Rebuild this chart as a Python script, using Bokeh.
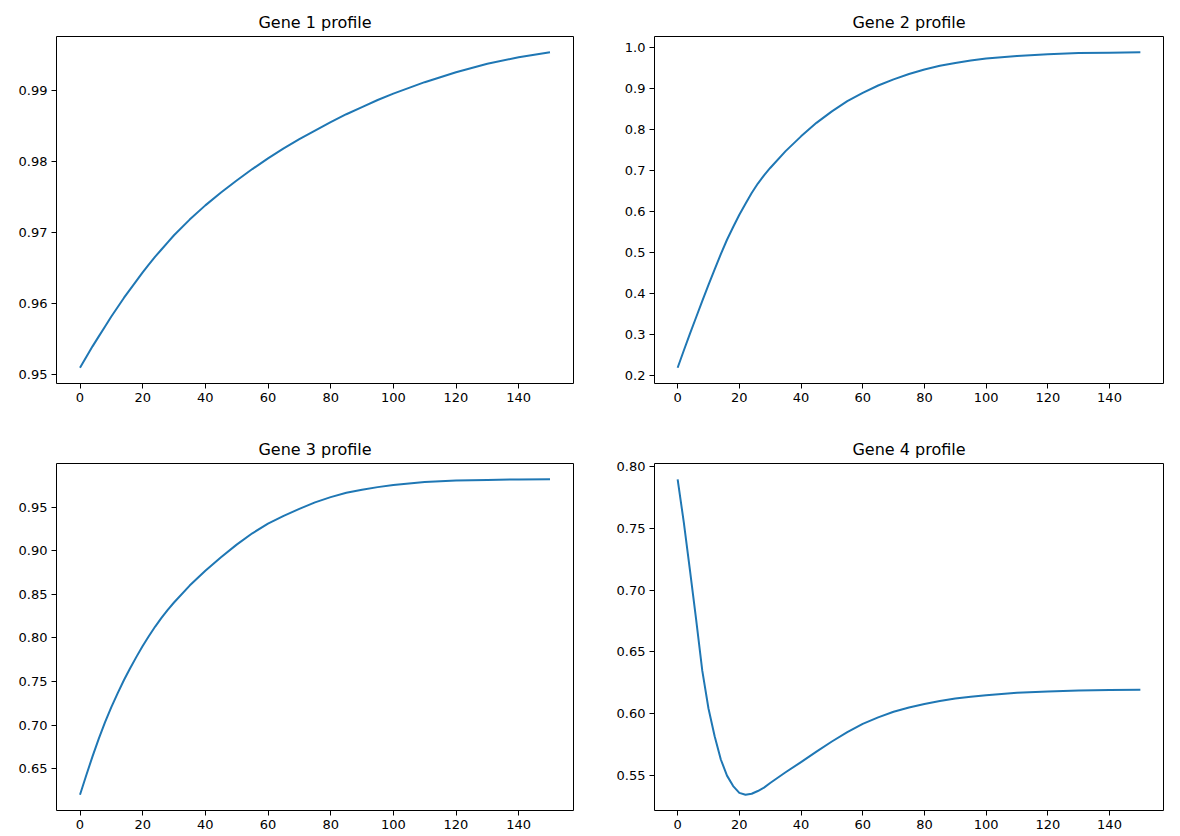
from bokeh.plotting import figure
from bokeh.layouts import gridplot
from bokeh.models import Range1d, FixedTicker, PrintfTickFormatter
from bokeh.embed import file_html
from bokeh.resources import INLINE

# ---- data ----
T = [0, 2, 4, 6, 8, 10, 12, 14, 16, 18, 20, 22, 24, 26, 28, 30, 35, 40, 45, 50,
     55, 60, 65, 70, 75, 80, 85, 90, 95, 100, 110, 120, 130, 140, 150]

GENE1 = [0.9510, 0.9525, 0.9540, 0.9554, 0.9568, 0.9582, 0.9595, 0.9608, 0.9620, 0.9632,
         0.9644, 0.9655, 0.9666, 0.9676, 0.9686, 0.9696, 0.9718, 0.9738, 0.9756, 0.9773,
         0.9789, 0.9804, 0.9818, 0.9831, 0.9843, 0.9855, 0.9866, 0.9876, 0.9886, 0.9895,
         0.9911, 0.9925, 0.9937, 0.9946, 0.9953]

GENE2 = [0.220, 0.262, 0.303, 0.343, 0.383, 0.422, 0.460, 0.497, 0.532, 0.563,
         0.593, 0.620, 0.646, 0.669, 0.689, 0.707, 0.748, 0.784, 0.817, 0.845,
         0.870, 0.890, 0.908, 0.923, 0.936, 0.947, 0.956, 0.963, 0.969, 0.974,
         0.980, 0.984, 0.987, 0.988, 0.989]

GENE3 = [0.620, 0.6424, 0.664, 0.6844, 0.7032, 0.7206, 0.7364, 0.7514, 0.7652, 0.7782,
         0.7906, 0.8022, 0.813, 0.823, 0.8322, 0.8406, 0.8600, 0.877, 0.8925, 0.907,
         0.920, 0.931, 0.940, 0.948, 0.9555, 0.9615, 0.9665, 0.970, 0.973, 0.9755,
         0.979, 0.9806, 0.9813, 0.9818, 0.982]

GENE4 = [0.790, 0.755, 0.716, 0.676, 0.6345, 0.604, 0.5815, 0.5626, 0.5495, 0.541,
         0.5355, 0.534, 0.5348, 0.5370, 0.5398, 0.5435, 0.5522, 0.5605, 0.5690, 0.5772,
         0.5848, 0.5915, 0.5968, 0.6013, 0.6048, 0.6077, 0.6100, 0.6120, 0.6135, 0.6148,
         0.6167, 0.6178, 0.6185, 0.6189, 0.6192]

TITLES = ["Gene 1 profile", "Gene 2 profile", "Gene 3 profile", "Gene 4 profile"]
X_TICKS = [0, 20, 40, 60, 80, 100, 120, 140]
Y_TICKS_1 = [0.95, 0.96, 0.97, 0.98, 0.99]
Y_TICKS_2 = [0.2, 0.3, 0.4, 0.5, 0.6, 0.7, 0.8, 0.9, 1.0]
Y_TICKS_3 = [0.65, 0.70, 0.75, 0.80, 0.85, 0.90, 0.95]
Y_TICKS_4 = [0.55, 0.60, 0.65, 0.70, 0.75, 0.80]

FONT = "DejaVu Sans"
LINE_COLOR = "#1f77b4"


def padded(vals, frac=0.05):
    lo, hi = min(vals), max(vals)
    d = (hi - lo) * frac
    return lo - d, hi + d


def make(title, ys, yticks, fmt, border_left, border_top, border_bottom):
    x0, x1 = padded(T)
    y0, y1 = padded(ys)
    p = figure(width=590, height=418, output_backend="svg", toolbar_location=None,
               x_range=Range1d(x0, x1), y_range=Range1d(y0, y1),
               min_border_left=border_left, min_border_right=17,
               min_border_top=border_top, min_border_bottom=border_bottom)
    p.line(T, ys, line_color=LINE_COLOR, line_width=2, line_join="round")
    p.title.text = title
    p.title.align = "center"
    p.title.text_font = FONT
    p.title.text_font_size = "16px"
    p.title.text_font_style = "normal"
    p.title.text_color = "#000000"
    p.title.standoff = 9
    p.outline_line_color = "#000000"
    p.outline_line_width = 1
    p.outline_line_alpha = 1.0
    p.xgrid.visible = False
    p.ygrid.visible = False
    p.background_fill_color = "white"
    p.border_fill_color = "white"
    for ax in (p.xaxis[0], p.yaxis[0]):
        ax.axis_line_color = None
        ax.major_tick_in = 0
        ax.major_tick_out = 5
        ax.major_tick_line_color = "#000000"
        ax.minor_tick_line_color = None
        ax.major_label_text_font = FONT
        ax.major_label_text_font_size = "13px"
        ax.major_label_text_color = "#000000"
        ax.major_label_standoff = 4
    p.xaxis[0].ticker = FixedTicker(ticks=X_TICKS)
    p.yaxis[0].ticker = FixedTicker(ticks=yticks)
    p.yaxis[0].formatter = PrintfTickFormatter(format=fmt)
    return p


p1 = make(TITLES[0], GENE1, Y_TICKS_1, "%.2f", 56, 36, 35)
p2 = make(TITLES[1], GENE2, Y_TICKS_2, "%.1f", 64, 36, 35)
p3 = make(TITLES[2], GENE3, Y_TICKS_3, "%.2f", 56, 45, 26)
p4 = make(TITLES[3], GENE4, Y_TICKS_4, "%.2f", 58, 45, 26)

grid = gridplot([[p1, p2], [p3, p4]], toolbar_location=None)

with open("out.html", "w") as f:
    f.write(file_html(grid, INLINE))
